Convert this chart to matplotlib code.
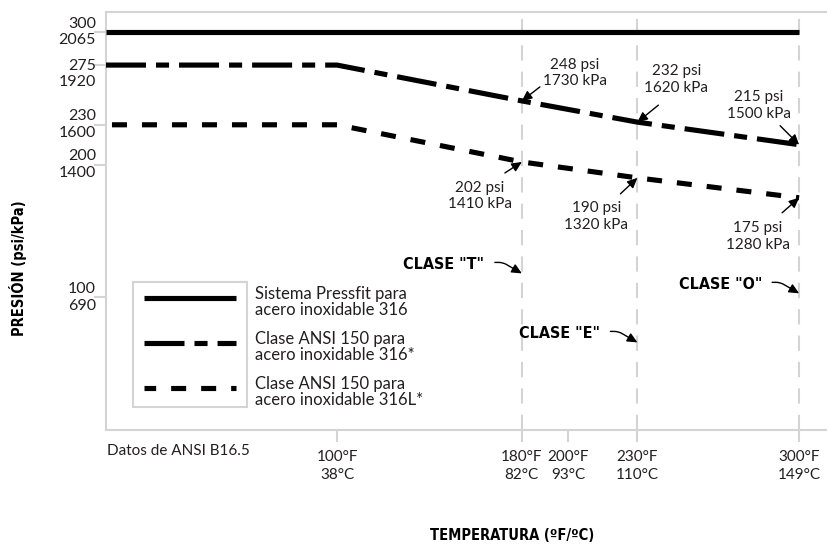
import matplotlib
matplotlib.use("Agg")
import matplotlib.pyplot as plt
from matplotlib.lines import Line2D
from matplotlib.patches import Rectangle
from matplotlib.transforms import Affine2D, blended_transform_factory

plt.rcParams['lines.scale_dashes'] = False

# ---------------- data ----------------
temps_f = [0, 100, 180, 230, 300]
pressfit_psi = [300, 300, 300, 300, 300]
ansi_316_psi = [275, 275, 248, 232, 215]
ansi_316l_psi = [230, 230, 202, 190, 175]

x_ticks = [100, 180, 200, 230, 300]
x_tick_labels = ["100°F\n38°C", "180°F\n82°C", "200°F\n93°C", "230°F\n110°C", "300°F\n149°C"]
grid_temps = [180, 230, 300]

y_ticks = [300, 275, 230, 200, 100]
y_tick_psi = ["300", "275", "230", "200", "100"]
y_tick_kpa = ["2065", "1920", "1600", "1400", "690"]

callout_temps = [180, 230, 300, 180, 230, 300]
callout_psi = [248, 232, 215, 202, 190, 175]
callout_text = ["248 psi\n1730 kPa", "232 psi\n1620 kPa", "215 psi\n1500 kPa",
                "202 psi\n1410 kPa", "190 psi\n1320 kPa", "175 psi\n1280 kPa"]

class_labels = ['CLASE "T"', 'CLASE "E"', 'CLASE "O"']
class_temps = [180, 230, 300]

legend_labels = ["Sistema Pressfit para\nacero inoxidable 316",
                 "Clase ANSI 150 para\nacero inoxidable 316*",
                 "Clase ANSI 150 para\nacero inoxidable 316L*"]

# ---------------- style ----------------
W, H = 828, 544
LIGHT = ['Lato', 'DejaVu Sans']
BOLDKW = dict(fontfamily='DejaVu Sans', fontstretch='condensed', fontweight='bold', color='black')
TXT = '#231f20'
GREY = '#d4d4d4'
LW = 3.7
DASHDOT = (0, (28.8, 7.2, 9.4, 7.2))
DASHED = (17.3, (10.8, 10.8))

fig = plt.figure(figsize=(W / 100, H / 100), dpi=100)
ax = fig.add_axes([106 / W, 1 - 430 / H, 1 - 106 / W, (430 - 12) / H])
ax.set_xlim(0, 312.5)
ax.set_ylim(0, 315)

# pixel transform for figure-level layout pieces
pxT = Affine2D().scale(1 / W, -1 / H).translate(0, 1) + fig.transFigure

for side in ['left', 'top', 'bottom']:
    ax.spines[side].set_color(GREY)
    ax.spines[side].set_linewidth(1.5)
ax.spines['right'].set_visible(False)

for t in grid_temps:
    ax.axvline(t, color=GREY, lw=1.5, ls=(0, (11, 8)), zorder=0)

ax.plot(temps_f, pressfit_psi, color='black', lw=LW, solid_capstyle='butt', zorder=3)
ax.plot(temps_f, ansi_316_psi, color='black', lw=LW, ls=DASHDOT, dash_capstyle='butt', zorder=3)
ax.plot(temps_f, ansi_316l_psi, color='black', lw=LW, ls=DASHED, dash_capstyle='butt', zorder=3)

# ticks
ax.set_xticks(x_ticks)
ax.set_xticklabels(x_tick_labels, fontfamily=LIGHT, fontsize=11, color=TXT, linespacing=1.3)
ax.tick_params(axis='x', length=8.6, width=1.5, color=GREY, pad=6)
ax.set_yticks(y_ticks)
ax.set_yticklabels([])
ax.tick_params(axis='y', length=8.6, width=1.5, color=GREY)

ytrans = blended_transform_factory(ax.transAxes, ax.transData)
for v, p, k in zip(y_ticks, y_tick_psi, y_tick_kpa):
    dy = -9 if p == "275" else 0
    ax.annotate(p + "\n" + k, xy=(0, v), xycoords=ytrans, xytext=(-10, dy),
                textcoords='offset pixels', ha='right', va='center', fontfamily=LIGHT,
                fontsize=11.5, color=TXT, linespacing=1.25)

fig.text(107 / W, 1 - 451 / H, "Datos de ANSI B16.5", fontfamily=LIGHT, fontsize=11,
         color=TXT, ha='left', va='center')

# callouts
text_off = [(53, 28), (39, 43), (-40, 39), (-42, -34), (-41, -39), (-41, -39)]
tail_off = [(18, 14), (21, 17), (-19, 19), (-17, -11), (-17, -16), (-17, -15)]
for t, p, s, to, ao in zip(callout_temps, callout_psi, callout_text, text_off, tail_off):
    ax.annotate("", xy=(t, p), xytext=ao, textcoords='offset pixels',
                arrowprops=dict(arrowstyle='-|>,head_length=0.6,head_width=0.28',
                                color='black', lw=1.0, shrinkA=0, shrinkB=0), zorder=5)
    ax.annotate(s, xy=(t, p), xytext=to, textcoords='offset pixels', ha='center',
                va='center', fontfamily=LIGHT, fontsize=11, color=TXT, linespacing=1.25)

# class labels (head height in psi units, layout only)
class_head_psi = [118, 66, 103]
for lab, t, hp in zip(class_labels, class_temps, class_head_psi):
    ax.annotate("", xy=(t, hp), xytext=(-27, 11), textcoords='offset pixels',
                arrowprops=dict(arrowstyle='-|>,head_length=0.6,head_width=0.28',
                                connectionstyle='angle,angleA=0,angleB=150,rad=4',
                                color='black', lw=1.0, shrinkA=0, shrinkB=0))
    ax.annotate(lab, xy=(t, hp), xytext=(-78, 9), textcoords='offset pixels', ha='center',
                va='center', fontsize=11.5, **BOLDKW)

# legend (manual box with handles only, labels outside)
fig.add_artist(Rectangle((133, 282), 114, 125, transform=pxT, fill=False, ec=GREY, lw=1.5))
handle_y = [298, 343, 388]
styles = ['-', DASHDOT, (24, (10.8, 10.8))]
for y, st, lab in zip(handle_y, styles, legend_labels):
    fig.add_artist(Line2D([144, 236], [y, y], transform=pxT, color='black', lw=LW, ls=st,
                          solid_capstyle='butt', dash_capstyle='butt'))
    fig.text(255 / W, 1 - (y + 4) / H, lab, fontfamily=LIGHT, fontsize=12, color=TXT,
             ha='left', va='center', linespacing=0.95)

# axis titles
fig.text(18 / W, 1 - 268 / H, "PRESIÓN (psi/kPa)", rotation=90, fontsize=10.5,
         ha='center', va='center', **BOLDKW)
fig.text(512 / W, 1 - 536 / H, "TEMPERATURA (ºF/ºC)", fontsize=10.5,
         ha='center', va='center', **BOLDKW)

fig.savefig("out.png", dpi=100)
